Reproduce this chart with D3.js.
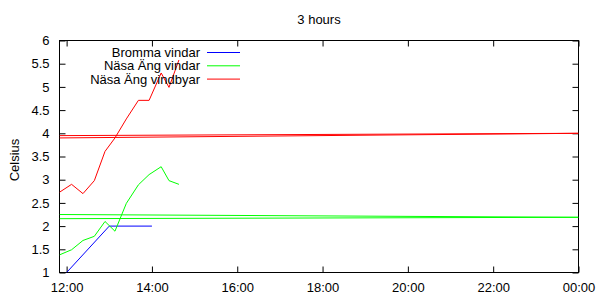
<!DOCTYPE html>
<html>
<head>
<meta charset="utf-8">
<script src="https://cdn.jsdelivr.net/npm/d3@7"></script>
<style>
  body { margin: 0; background: #fff; }
  svg { display: block; font-family: "Liberation Sans", Arial, sans-serif; }
</style>
</head>
<body>
<svg id="chart" width="600" height="300"></svg>
<script>
// ---- data ----
const title = "3 hours";
const yLabel = "Celsius";
const seriesNames = ["Bromma vindar", "Näsa Äng vindar", "Näsa Äng vindbyar"];
const seriesColors = ["#0000ff", "#00ff00", "#ff0000"];

const brommaTimes = ["12:00", "13:00", "14:00"];
const brommaValues = [1.0, 2.0, 2.0];

const nasaTimes = ["11:50", "12:07", "12:23", "12:39", "12:54", "13:08", "13:24", "13:41", "13:56", "14:13", "14:24", "14:38"];
const nasaVindar = [1.38, 1.49, 1.69, 1.78, 2.10, 1.89, 2.49, 2.89, 3.11, 3.28, 2.98, 2.90];
const nasaVindbyar = [2.73, 2.90, 2.70, 2.98, 3.61, 3.90, 4.31, 4.71, 4.71, 5.30, 4.99, 5.58];

// level lines spanning the whole window (start value, end value)
const vindarLevels = [[2.25, 2.19], [2.16, 2.19]];
const vindbyarLevels = [[3.90, 4.00], [3.95, 4.00]];

const xStart = "11:50";
const xEnd = "24:00";
const xTickHours = [12, 14, 16, 18, 20, 22, 24];
const yTicks = [1, 1.5, 2, 2.5, 3, 3.5, 4, 4.5, 5, 5.5, 6];

// ---- helpers ----
function toDate(s) {
  const [h, m] = s.split(":").map(Number);
  return new Date(2020, 0, 1, h, m);
}

const svg = d3.select("#chart");
const L = 59.5, R = 578.5, T = 40.5, B = 272.5;

const x = d3.scaleTime().domain([toDate(xStart), toDate(xEnd)]).range([L, R]);
const y = d3.scaleLinear().domain([1, 6]).range([B, T]);

svg.append("defs").append("clipPath").attr("id", "clip")
  .append("rect").attr("x", L).attr("y", T).attr("width", R - L).attr("height", B - T);

const fontSize = 13;
const tickLen = 6;
const xTicks = xTickHours.map(h => new Date(2020, 0, 1, h, 0));
const fmt = d3.timeFormat("%H:%M");

// axes (ticks inward, mirrored)
const axBottom = d3.axisBottom(x).tickValues(xTicks).tickSize(-tickLen).tickFormat(fmt).tickPadding(10);
const axTop = d3.axisTop(x).tickValues(xTicks).tickSize(-tickLen).tickFormat("");
const axLeft = d3.axisLeft(y).tickValues(yTicks).tickSize(-tickLen).tickFormat(d3.format("")).tickPadding(10);
const axRight = d3.axisRight(y).tickValues(yTicks).tickSize(-tickLen).tickFormat("");

function styleAxis(g) {
  g.select(".domain").remove();
  g.selectAll("line").attr("stroke", "#000");
  g.selectAll("text").attr("font-size", fontSize).attr("fill", "#000").attr("font-family", "Liberation Sans, Arial, sans-serif");
}

svg.append("g").attr("transform", `translate(0,${B})`).call(axBottom).call(styleAxis);
svg.append("g").attr("transform", `translate(0,${T})`).call(axTop).call(styleAxis);
svg.append("g").attr("transform", `translate(${L},0)`).call(axLeft).call(styleAxis);
svg.append("g").attr("transform", `translate(${R},0)`).call(axRight).call(styleAxis);

// frame
svg.append("rect").attr("x", L).attr("y", T).attr("width", R - L).attr("height", B - T)
  .attr("fill", "none").attr("stroke", "#000").attr("stroke-width", 1);

// lines
const line = d3.line().x(d => x(d[0])).y(d => y(d[1]));
const plot = svg.append("g").attr("clip-path", "url(#clip)");

function draw(points, color) {
  plot.append("path").datum(points).attr("d", line)
    .attr("fill", "none").attr("stroke", color).attr("stroke-width", 1);
}

vindarLevels.forEach(v => draw([[toDate(xStart), v[0]], [toDate(xEnd), v[1]]], seriesColors[1]));
vindbyarLevels.forEach(v => draw([[toDate(xStart), v[0]], [toDate(xEnd), v[1]]], seriesColors[2]));

draw(brommaTimes.map((t, i) => [toDate(t), brommaValues[i]]), seriesColors[0]);
draw(nasaTimes.map((t, i) => [toDate(t), nasaVindar[i]]), seriesColors[1]);
draw(nasaTimes.map((t, i) => [toDate(t), nasaVindbyar[i]]), seriesColors[2]);

// legend
const legend = svg.append("g");
seriesNames.forEach((name, i) => {
  const ly = 52.5 + i * 13.3;
  legend.append("text").attr("x", 200).attr("y", ly + 4.5).attr("text-anchor", "end")
    .attr("font-size", fontSize).attr("fill", "#000").text(name);
  legend.append("line").attr("x1", 207).attr("x2", 240).attr("y1", ly).attr("y2", ly)
    .attr("stroke", seriesColors[i]).attr("stroke-width", 1);
});

// title
svg.append("text").attr("x", (L + R) / 2).attr("y", 24).attr("text-anchor", "middle")
  .attr("font-size", fontSize).attr("fill", "#000").text(title);

// y label
svg.append("text").attr("transform", `translate(19,160) rotate(-90)`).attr("text-anchor", "middle")
  .attr("font-size", fontSize).attr("fill", "#000").text(yLabel);
</script>
</body>
</html>
